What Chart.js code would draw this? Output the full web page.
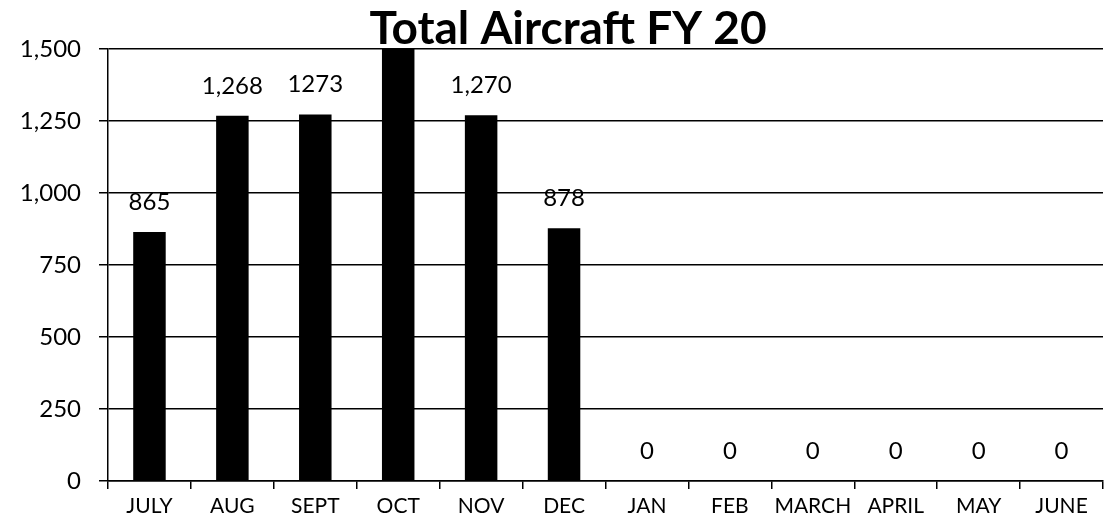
<!DOCTYPE html>
<html>
<head>
<meta charset="utf-8">
<script src="https://cdn.jsdelivr.net/npm/chart.js@4.4.1/dist/chart.umd.min.js"></script>
<style>
  html, body { margin: 0; padding: 0; background: #ffffff; }
  #wrap { width: 1109px; height: 528px; position: relative; }
</style>
</head>
<body>
<div id="wrap"><canvas id="c" width="1109" height="528"></canvas></div>
<script>
const chartTitle = 'Total Aircraft FY 20';
const categories = ['JULY', 'AUG', 'SEPT', 'OCT', 'NOV', 'DEC', 'JAN', 'FEB', 'MARCH', 'APRIL', 'MAY', 'JUNE'];
const aircraftTotals = [865, 1268, 1273, 1550, 1270, 878, 0, 0, 0, 0, 0, 0];
const valueLabels = ['865', '1,268', '1273', '', '1,270', '878', '0', '0', '0', '0', '0', '0'];
const yTickValues = [0, 250, 500, 750, 1000, 1250, 1500];

const FONT = 'Lato, "Open Sans", "DejaVu Sans", sans-serif';

const titlePlugin = {
  id: 'sheetTitle',
  afterDraw(chart) {
    const ctx = chart.ctx;
    ctx.save();
    ctx.fillStyle = '#000';
    ctx.font = 'bold 46px ' + FONT;
    ctx.textAlign = 'center';
    ctx.textBaseline = 'alphabetic';
    ctx.fillText(chartTitle, 568, 44);
    ctx.restore();
  }
};

const valueLabelPlugin = {
  id: 'valueLabels',
  afterDatasetsDraw(chart) {
    const ctx = chart.ctx;
    const meta = chart.getDatasetMeta(0);
    const yMax = chart.scales.y.max;
    ctx.save();
    ctx.fillStyle = '#000';
    ctx.font = '24px ' + FONT;
    ctx.textAlign = 'center';
    ctx.textBaseline = 'middle';
    meta.data.forEach((bar, i) => {
      if (aircraftTotals[i] > yMax || !valueLabels[i]) return;
      ctx.fillText(valueLabels[i], bar.x, bar.y - 30);
    });
    ctx.restore();
  }
};

new Chart(document.getElementById('c'), {
  type: 'bar',
  data: {
    labels: categories,
    datasets: [{
      label: chartTitle,
      data: aircraftTotals,
      backgroundColor: '#000000',
      borderWidth: 0,
      categoryPercentage: 0.8,
      barPercentage: 0.49
    }]
  },
  options: {
    responsive: false,
    animation: false,
    layout: { padding: { top: 49, right: 6, left: 0, bottom: 0 } },
    plugins: {
      legend: { display: false },
      title: { display: false },
      tooltip: { enabled: false }
    },
    scales: {
      x: {
        offset: true,
        grid: {
          offset: true,
          drawOnChartArea: false,
          drawTicks: true,
          tickLength: 8,
          color: '#000',
          lineWidth: 1.5
        },
        border: { color: '#000', width: 1.5 },
        ticks: {
          color: '#000',
          font: { family: FONT, size: 21 },
          padding: 5,
          maxRotation: 0,
          autoSkip: false
        },
        afterFit(scale) { scale.height = 47; }
      },
      y: {
        min: 0,
        max: 1500,
        afterBuildTicks(scale) { scale.ticks = yTickValues.map(v => ({ value: v })); },
        grid: {
          color: '#000',
          lineWidth: 1.5,
          drawTicks: true,
          tickLength: 9
        },
        border: { color: '#000', width: 1.5 },
        ticks: {
          color: '#000',
          font: { family: FONT, size: 24 },
          padding: 18,
          callback: (v) => Number(v).toLocaleString('en-US')
        },
        afterFit(scale) { scale.width = 108; }
      }
    }
  },
  plugins: [titlePlugin, valueLabelPlugin]
});
</script>
</body>
</html>
